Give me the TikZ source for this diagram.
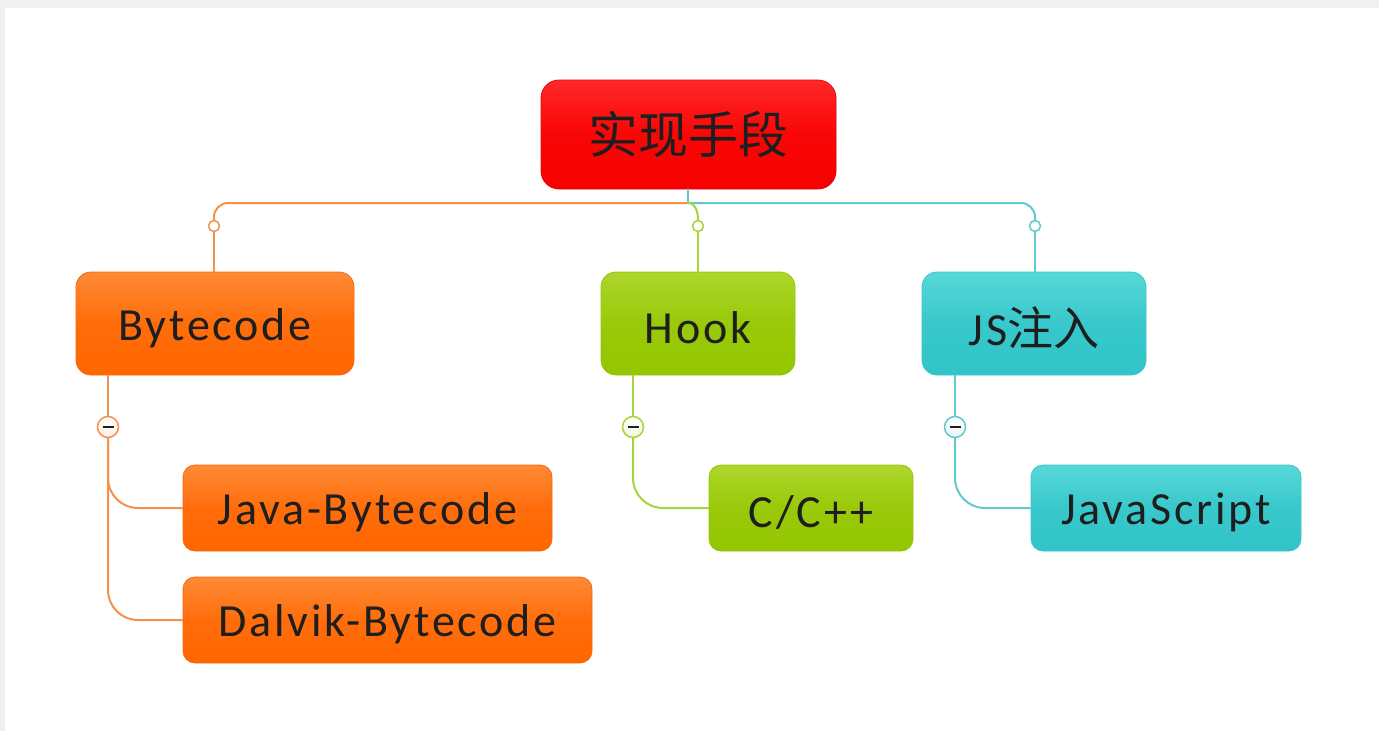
\documentclass[tikz,border=0pt]{standalone}
\usepackage{fontspec}
\setmainfont{Carlito}[LetterSpace=6]
\newfontfamily\cjk{Noto Sans CJK SC}
\usetikzlibrary{calc}

% node fills and connector colours
\definecolor{rootTop}{HTML}{FF2828}
\definecolor{rootBot}{HTML}{F80000}
\definecolor{rootEdge}{HTML}{E00808}
\definecolor{orTop}{HTML}{FF8A36}
\definecolor{orBot}{HTML}{FF6600}
\definecolor{orEdge}{HTML}{F26A10}
\definecolor{grTop}{HTML}{ADD62C}
\definecolor{grBot}{HTML}{94C600}
\definecolor{grEdge}{HTML}{96C410}
\definecolor{tlTop}{HTML}{58D8D8}
\definecolor{tlBot}{HTML}{30C4C8}
\definecolor{tlEdge}{HTML}{40C4C8}
\definecolor{orLine}{HTML}{F4914F}
\definecolor{grLine}{HTML}{A8D43A}
\definecolor{tlLine}{HTML}{62C9CE}
\definecolor{txt}{HTML}{1E1E1E}
\definecolor{frame}{HTML}{F0F0F0}

% labels sit a little below the box centre: pad the top of the text box
\newcommand\lowlabel[1]{\raisebox{0pt}[\dimexpr\height+9pt\relax][\depth]{#1}}

\tikzset{
  topic/.style={rounded corners=#1, inner sep=0pt, line width=0.8pt,
    text=txt, font=\fontsize{46}{52}\selectfont, anchor=center},
  rootbox/.style={topic=18pt, top color=rootTop, bottom color=rootBot,
    middle color=rootBot!85!rootTop, draw=rootEdge,
    minimum width=295pt, minimum height=109pt},
  orbox/.style={topic=#1, top color=orTop, bottom color=orBot,
    middle color=orBot!80!orTop, draw=orEdge},
  grbox/.style={topic=#1, top color=grTop, bottom color=grBot,
    middle color=grBot!80!grTop, draw=grEdge},
  tlbox/.style={topic=#1, top color=tlTop, bottom color=tlBot,
    middle color=tlBot!80!tlTop, draw=tlEdge},
  mainsize/.style={minimum width=#1, minimum height=103pt},
  subsize/.style={minimum width=#1, minimum height=86pt},
  link/.style={line width=2pt, line cap=round},
  knob/.style={circle, draw=#1, fill=white, line width=1.5pt,
    minimum size=11pt, inner sep=0pt},
  fold/.style={circle, draw=#1, top color=white, bottom color=#1!15,
    line width=1.5pt, minimum size=21pt, inner sep=0pt, text=txt},
}

\begin{document}
\begin{tikzpicture}[x=1pt, y=-1pt]
  % page frame
  \fill[frame] (0,0) rectangle (1379,731);
  \fill[white] (5,8) rectangle (1379,731);
  \useasboundingbox (0,0) rectangle (1379,731);

  % topics
  \node[rootbox] (root) at (688.5,134.5) {\cjk\fontsize{50}{56}\selectfont 实现手段};
  \node[orbox=15pt, mainsize=278pt] (byte) at (215,323.5) {\lowlabel{Bytecode}};
  \node[grbox=15pt, mainsize=194pt] (hook) at (698,323.5) {\lowlabel{Hook}};
  \node[tlbox=15pt, mainsize=224pt] (js)   at (1034,323.5) {\lowlabel{JS{\cjk\fontsize{46}{52}\selectfont 注入}}};

  \node[orbox=12pt, subsize=369pt] (java)    at (367.5,508) {\lowlabel{Java-Bytecode}};
  \node[orbox=12pt, subsize=409pt] (dalvik)  at (387.5,620) {\lowlabel{Dalvik-Bytecode}};
  \node[grbox=12pt, subsize=204pt] (cpp)     at (811,508)   {\lowlabel{C/C++}};
  \node[tlbox=12pt, subsize=270pt] (jscript) at (1166,508)  {\lowlabel{JavaScript}};

  % junction under the root and the knobs above each main topic
  \coordinate (hub) at (688,203);
  \node[knob=orLine] (kb) at (214,226) {};
  \node[knob=grLine] (kh) at (698,226) {};
  \node[knob=tlLine] (kj) at (1035,226) {};

  % root to main topics
  \draw[link, tlLine] (root.south -| hub) -- (hub);
  \draw[link, orLine, rounded corners=14pt] (hub) -| (kb.north);
  \draw[link, tlLine, rounded corners=14pt] (hub) -| (kj.north);
  \draw[link, grLine] (hub) to[out=0, in=90] (kh.north);
  \draw[link, orLine] (kb.south) -- (byte.north -| kb);
  \draw[link, grLine] (kh.south) -- (hook.north);
  \draw[link, tlLine] (kj.south) -- (js.north -| kj);

  % fold buttons under the main topics
  \node[fold=orLine] (fb) at (108,427) {\rule{11pt}{2.4pt}};
  \node[fold=grLine] (fh) at (633,427) {\rule{11pt}{2.4pt}};
  \node[fold=tlLine] (fj) at (955,427) {\rule{11pt}{2.4pt}};

  \draw[link, orLine] (byte.south -| fb) -- (fb.north);
  \draw[link, grLine] (hook.south -| fh) -- (fh.north);
  \draw[link, tlLine] (js.south -| fj) -- (fj.north);

  % main topics to subtopics
  \draw[link, orLine, rounded corners=30pt] (fb.south) |- (java.west);
  \draw[link, orLine, rounded corners=30pt] (fb.south) |- (dalvik.west);
  \draw[link, grLine, rounded corners=30pt] (fh.south) |- (cpp.west);
  \draw[link, tlLine, rounded corners=30pt] (fj.south) |- (jscript.west);
\end{tikzpicture}
\end{document}
